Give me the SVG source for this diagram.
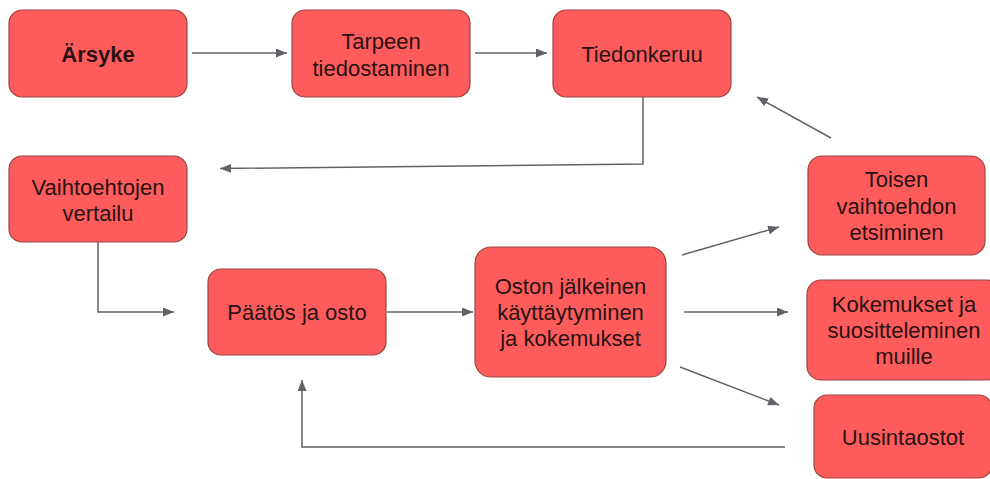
<svg xmlns="http://www.w3.org/2000/svg" width="990" height="479" viewBox="0 0 990 479">
<style>
.box{fill:#fe5c5c;stroke:#9a4545;stroke-width:1.2}
.t{font-family:"Liberation Sans",Arial,sans-serif;font-size:22px;fill:#2a1212;text-anchor:middle}
.b{font-weight:bold}
.c{fill:none;stroke:#5f6368;stroke-width:1.5}
</style>
<defs>
<marker id="ah" markerUnits="userSpaceOnUse" markerWidth="12" markerHeight="10" refX="11" refY="4.5" orient="auto">
<path d="M0,0 L11,4.5 L0,9 z" fill="#5f6368"/>
</marker>
</defs>
<rect width="990" height="479" fill="#ffffff"/>
<g id="connectors">
<path class="c" d="M192,53 L287,53" marker-end="url(#ah)"/>
<path class="c" d="M475,53 L547,53" marker-end="url(#ah)"/>
<path class="c" d="M643,97 L643,164 L220,168.5" marker-end="url(#ah)"/>
<path class="c" d="M831,138 L757,97" marker-end="url(#ah)"/>
<path class="c" d="M98,242 L98,312 L174,312" marker-end="url(#ah)"/>
<path class="c" d="M387,312 L473,312" marker-end="url(#ah)"/>
<path class="c" d="M682,255 L779,227" marker-end="url(#ah)"/>
<path class="c" d="M684,312 L788,312" marker-end="url(#ah)"/>
<path class="c" d="M680,367 L779,405" marker-end="url(#ah)"/>
<path class="c" d="M785,447 L302,447 L302,380" marker-end="url(#ah)"/>
</g>
<g id="arsyke">
<rect class="box" x="9" y="10" width="178" height="87" rx="13"/>
<text class="t b" x="98" y="61.5">Ärsyke</text>
</g>
<g id="tarpeen">
<rect class="box" x="292" y="10" width="178" height="87" rx="13"/>
<text class="t" x="381" y="49">Tarpeen</text>
<text class="t" x="381" y="75.5">tiedostaminen</text>
</g>
<g id="tiedonkeruu">
<rect class="box" x="553" y="10" width="178" height="87" rx="13"/>
<text class="t" x="642" y="61.5">Tiedonkeruu</text>
</g>
<g id="vaihtoehtojen">
<rect class="box" x="9" y="156" width="178" height="86" rx="13"/>
<text class="t" x="98" y="194.5">Vaihtoehtojen</text>
<text class="t" x="98" y="220.5">vertailu</text>
</g>
<g id="paatos">
<rect class="box" x="208" y="269" width="178" height="86" rx="13"/>
<text class="t" x="297" y="320">Päätös ja osto</text>
</g>
<g id="oston">
<rect class="box" x="475" y="247" width="191" height="130" rx="16"/>
<text class="t" x="570.5" y="294">Oston jälkeinen</text>
<text class="t" x="570.5" y="320">käyttäytyminen</text>
<text class="t" x="570.5" y="346">ja kokemukset</text>
</g>
<g id="toisen">
<rect class="box" x="808" y="156" width="177" height="99" rx="14"/>
<text class="t" x="896.5" y="187">Toisen</text>
<text class="t" x="896.5" y="213.5">vaihtoehdon</text>
<text class="t" x="896.5" y="240">etsiminen</text>
</g>
<g id="kokemukset">
<rect class="box" x="807" y="280" width="194" height="100" rx="14"/>
<text class="t" x="904" y="312">Kokemukset ja</text>
<text class="t" x="904" y="338">suositteleminen</text>
<text class="t" x="904" y="364">muille</text>
</g>
<g id="uusintaostot">
<rect class="box" x="814" y="395" width="178" height="83" rx="13"/>
<text class="t" x="903" y="445">Uusintaostot</text>
</g>
</svg>
